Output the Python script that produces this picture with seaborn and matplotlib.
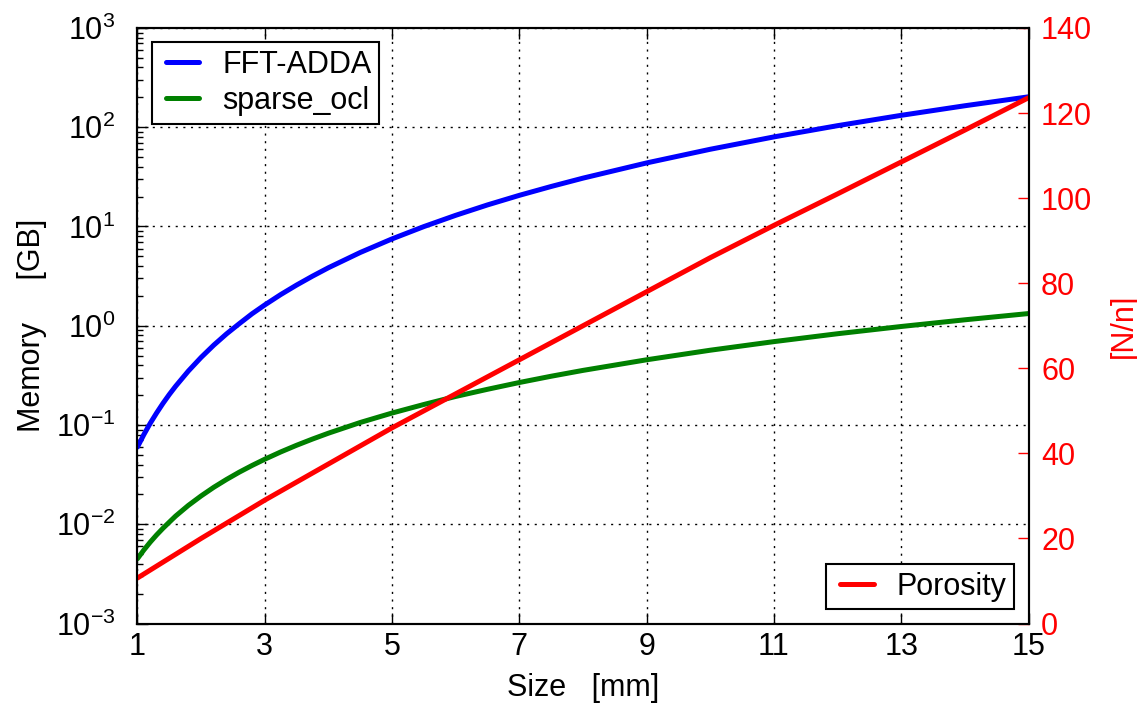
import matplotlib
matplotlib.use("Agg")
import matplotlib.pyplot as plt
from matplotlib.legend_handler import HandlerLine2D
import seaborn as sns
import pandas as pd

# Sample sizes [mm] and memory use [GB] of the two solvers
size = [1, 1.1, 1.2, 1.3, 1.4, 1.5, 1.6, 1.8, 2, 2.2, 2.4, 2.6, 2.8, 3, 3.25, 3.5,
        3.75, 4, 4.5, 5, 5.5, 6, 6.5, 7, 7.5, 8, 9, 10, 11, 12, 13, 14, 15]
fft_adda = [0.060, 0.080, 0.104, 0.132, 0.165, 0.203, 0.246, 0.350, 0.48, 0.639,
            0.829, 1.05, 1.32, 1.62, 2.06, 2.57, 3.16, 3.84, 5.47, 7.5, 9.98, 12.96,
            16.5, 20.6, 25.3, 30.7, 43.7, 60.0, 79.9, 103.7, 131.8, 164.6, 202.5]
sparse_ocl = [0.0045, 0.0055, 0.0066, 0.0078, 0.0091, 0.0105, 0.0121, 0.0155, 0.0193,
              0.0236, 0.0283, 0.0335, 0.0391, 0.0452, 0.0535, 0.0625, 0.0722, 0.0827,
              0.106, 0.132, 0.161, 0.194, 0.229, 0.268, 0.310, 0.355, 0.454, 0.567,
              0.692, 0.831, 0.983, 1.148, 1.327]

# Porosity [N/n] against size
size_por = [1, 2, 3, 4, 5, 6, 7, 8, 9, 10, 11, 12, 13, 14, 15]
porosity = [10.7, 20.0, 29.0, 37.5, 46.0, 54.0, 62.0, 70.0, 78.0, 86.0, 93.6, 101.0,
            108.5, 116.0, 123.6]

x_ticks = [1, 3, 5, 7, 9, 11, 13, 15]
por_ticks = [0, 20, 40, 60, 80, 100, 120, 140]

sns.set_style("ticks")
plt.rcParams.update({
    "font.family": ["Liberation Sans", "DejaVu Sans"],
    "mathtext.fontset": "custom",
    "mathtext.rm": "Liberation Sans",
    "mathtext.it": "Liberation Sans:italic",
    "mathtext.bf": "Liberation Sans:bold",
    "mathtext.default": "regular",
    "font.size": 22,
    "text.color": "black",
    "axes.labelcolor": "black",
    "axes.linewidth": 1.5,
    "axes.edgecolor": "black",
    "xtick.direction": "in",
    "ytick.direction": "in",
    "xtick.top": True,
    "xtick.major.size": 8,
    "ytick.major.size": 8,
    "ytick.minor.size": 4,
    "xtick.major.width": 1,
    "ytick.major.width": 1,
    "ytick.minor.width": 1,
    "xtick.major.pad": 6,
    "ytick.major.pad": 16,
    "xtick.color": "black",
    "ytick.color": "black",
    "xtick.labelsize": 22,
    "ytick.labelsize": 22,
    "legend.fontsize": 22,
})

df_mem = pd.DataFrame({"size": size, "FFT-ADDA": fft_adda, "sparse_ocl": sparse_ocl})
df_por = pd.DataFrame({"size": size_por, "Porosity": porosity})

fig, ax = plt.subplots(figsize=(11.37, 7.10), dpi=100)
fig.subplots_adjust(left=0.1209, right=0.9046, bottom=0.1218, top=0.9606)

sns.lineplot(data=df_mem, x="size", y="FFT-ADDA", ax=ax, color="blue", lw=3.6,
             label="FFT-ADDA")
sns.lineplot(data=df_mem, x="size", y="sparse_ocl", ax=ax, color="green", lw=3.6,
             label="sparse_ocl")
ax.set_yscale("log")
ax.set_ylim(1e-3, 1e3)
ax.set_xlim(1, 15)
ax.set_xticks(x_ticks)
ax.set_xlabel("Size   [mm]", labelpad=8)
ax.set_ylabel("Memory     [GB]", labelpad=6)
ax.grid(True, which="major", color="black", linestyle=(0, (1.5, 4)), linewidth=1)
ax.tick_params(axis="y", which="both", right=False)

ax2 = ax.twinx()
sns.lineplot(data=df_por, x="size", y="Porosity", ax=ax2, color="red", lw=3.6,
             label="Porosity")
ax2.set_xlabel("")
ax2.set_ylim(0, 140)
ax2.set_yticks(por_ticks)
ax2.set_ylabel("[N/n]", color="red", labelpad=12)
ax2.tick_params(axis="y", colors="red", direction="in", length=8, pad=9)
for s in ax2.spines.values():
    s.set_linewidth(1.5)
    s.set_color("black")

handler = {matplotlib.lines.Line2D: HandlerLine2D(xpad=0.2)}
leg_kw = dict(fancybox=False, edgecolor="black", framealpha=1, handlelength=1.3,
              borderaxespad=0.47, borderpad=0.25, labelspacing=0.2,
              handletextpad=0.75, handler_map=handler)
leg1 = ax.legend(loc="upper left", **leg_kw)
leg1.get_frame().set_linewidth(1.5)
leg2 = ax2.legend(loc="lower right", **leg_kw)
leg2.get_frame().set_linewidth(1.5)

fig.savefig("out.png", dpi=100)
